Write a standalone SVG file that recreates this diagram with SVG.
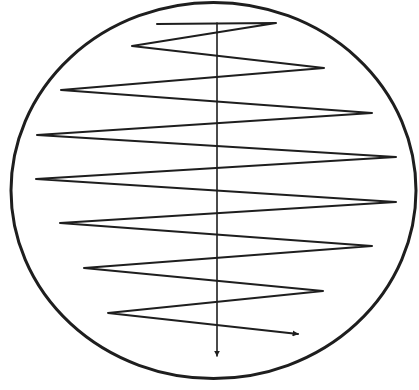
<svg xmlns="http://www.w3.org/2000/svg" width="419" height="390" viewBox="0 0 419 390">
<defs>
<style>
.ln{fill:none;stroke:#1e1e1e;stroke-linejoin:round;stroke-linecap:round}
</style>
<marker id="ah" viewBox="0 0 10 10" refX="9" refY="5" markerWidth="6" markerHeight="6" markerUnits="userSpaceOnUse" orient="auto">
<path d="M0,0 L10,5 L0,10 Z" fill="#1e1e1e"/>
</marker>
</defs>
<rect width="419" height="390" fill="#ffffff"/>
<g id="plate">
<ellipse cx="213.5" cy="190.5" rx="202.5" ry="188" class="ln" stroke-width="3"/>
</g>
<g id="streak">
<polyline class="ln" stroke-width="2" marker-end="url(#ah)" points="157,24 276,23 132,46 324,68 61,90 372,113 37,135 396,157 36,179 396,202 60,223 372,246 84,268 323,291 108,313 298,334"/>
</g>
<g id="axis">
<line class="ln" stroke-width="1.6" x1="217" y1="23" x2="217" y2="356" marker-end="url(#ah)"/>
</g>
</svg>
